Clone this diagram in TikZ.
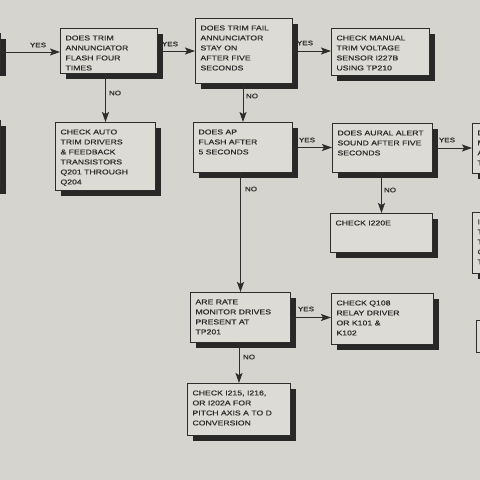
\documentclass[tikz,border=0pt]{standalone}
\usepackage{fontspec}
\setmainfont{Liberation Sans}[FakeStretch=1.24,FakeBold=0.6]
\usetikzlibrary{arrows.meta,shadows,calc}
\definecolor{paper}{RGB}{214,212,206}
\definecolor{boxfill}{RGB}{221,219,213}
\definecolor{ink}{RGB}{45,45,45}
\definecolor{shade}{RGB}{40,40,40}
\tikzset{
  box/.style={draw=ink, line width=1pt, fill=boxfill, inner xsep=5pt, inner ysep=0pt,
    anchor=north west, text=ink, font=\fontsize{7}{10}\selectfont,
    drop shadow={shadow xshift=5pt, shadow yshift=-5pt, opacity=1, fill=shade}},
  arr/.style={draw=ink, line width=1pt, -{Stealth[length=10pt,width=7pt,inset=2pt]}},
  lbl/.style={text=ink, font=\fontsize{6.5}{8}\selectfont, inner sep=0pt}
}
\newcommand\fbx[6]{\node[box] (#1) at (#2,#3) {\parbox[c][#5pt][t]{\dimexpr#4pt-10pt\relax}{\raggedright\vspace*{7pt}#6}};}
\begin{document}
\begin{tikzpicture}[x=1pt,y=-1pt]
\fill[paper] (0,0) rectangle (480,480);
\useasboundingbox (0,0) rectangle (480,480);
\clip (0,0) rectangle (480,480);
\fbx{L1}{-10}{33}{34}{37}{}
\fbx{L2}{-10}{120}{28}{68}{}
\fbx{A}{60}{28}{97}{45}{DOES TRIM\\ANNUNCIATOR\\FLASH FOUR\\TIMES}
\fbx{B}{195}{18}{97}{65}{DOES TRIM FAIL\\ANNUNCIATOR\\STAY ON\\AFTER FIVE\\SECONDS}
\fbx{C}{331}{28}{98}{47}{CHECK MANUAL\\TRIM VOLTAGE\\SENSOR I227B\\USING TP210}
\fbx{D}{55}{122}{100}{68}{CHECK AUTO\\TRIM DRIVERS\\\& FEEDBACK\\TRANSISTORS\\Q201 THROUGH\\Q204}
\fbx{E}{193}{122}{99}{50}{DOES AP\\FLASH AFTER\\5 SECONDS}
\fbx{F}{332}{123}{100}{49}{DOES AURAL ALERT\\SOUND AFTER FIVE\\SECONDS}
\fbx{G}{472}{123}{60}{50}{D\\M\\A\\T}
\fbx{H}{330}{213}{102}{39}{CHECK I220E}
\fbx{I}{472}{212}{60}{61}{I\\T\\T\\C\\T}
\fbx{J}{476}{320}{60}{32}{C\\E}
\fbx{K}{190}{292}{100}{50}{ARE RATE\\MONITOR DRIVES\\PRESENT AT\\TP201}
\fbx{L}{331}{293}{102}{51}{CHECK Q108\\RELAY DRIVER\\OR K101 \&\\K102}
\fbx{M}{187}{383}{103}{52}{CHECK I215, I216,\\OR I202A FOR\\PITCH AXIS A TO D\\CONVERSION}
\draw[arr] (L1.east) -- (L1.east -| A.west);
\draw[arr] (A.east) -- (B.west);
\draw[arr] (B.east) -- (B.east -| C.west);
\draw[arr] (A.south -| D.north) -- (D.north);
\draw[arr] (B.south -| E.north) -- (E.north);
\draw[arr] (E.east) -- (E.east -| F.west);
\draw[arr] (F.east) -- (F.east -| G.west);
\draw[arr] (F.south -| H.north) -- (H.north);
\draw[arr] (E.south -| K.north) -- (K.north);
\draw[arr] (K.east) -- (K.east -| L.west);
\draw[arr] (K.south -| M.north) -- (M.north);
\node[lbl] (y1) at (38,45) {YES};
\node[lbl] (y2) at (170,44) {YES};
\node[lbl] (y3) at (305,43) {YES};
\node[lbl] (n1) at (115,93) {NO};
\node[lbl] (n2) at (252,96) {NO};
\node[lbl] (y4) at (307,140) {YES};
\node[lbl] (y5) at (447,140) {YES};
\node[lbl] (n3) at (251,189) {NO};
\node[lbl] (n4) at (390,190) {NO};
\node[lbl] (y6) at (306,309) {YES};
\node[lbl] (n5) at (249,357) {NO};
\end{tikzpicture}
\end{document}
